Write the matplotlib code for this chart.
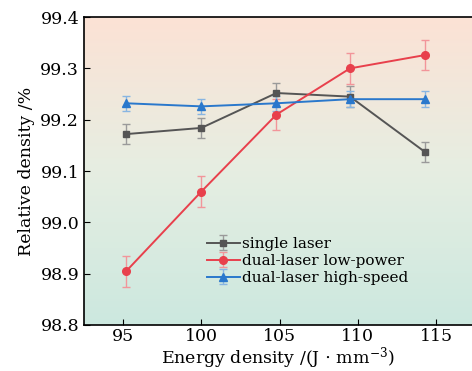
import numpy as np
import matplotlib.pyplot as plt
from matplotlib.colors import LinearSegmentedColormap

plt.rcParams['font.family'] = ['DejaVu Serif']
plt.rcParams['mathtext.fontset'] = 'dejavuserif'

energy = [95.2, 100.0, 104.8, 109.5, 114.3]
single = [99.172, 99.184, 99.252, 99.245, 99.137]
single_err = [0.020, 0.020, 0.020, 0.020, 0.020]
low_power = [98.905, 99.060, 99.210, 99.300, 99.326]
low_power_err = [0.030, 0.030, 0.030, 0.030, 0.030]
high_speed = [99.232, 99.226, 99.232, 99.240, 99.240]
high_speed_err = [0.015, 0.015, 0.015, 0.015, 0.015]

fig = plt.figure(figsize=(4.72, 3.71), dpi=100)
ax = fig.add_axes([0.178, 0.124, 0.822, 0.830])

# background gradient (peach top -> mint bottom)
cmap = LinearSegmentedColormap.from_list('bg', ['#cce8df', '#e6eee2', '#fce2d5'])
grad = np.linspace(0, 1, 256).reshape(-1, 1)
ax.imshow(grad, cmap=cmap, aspect='auto', extent=[0, 1, 0, 1],
          transform=ax.transAxes, origin='lower', zorder=0)

ax.errorbar(energy, single, yerr=single_err, color='#555555', marker='s', ms=5,
            lw=1.4, ecolor='#9a9a9a', elinewidth=1, capsize=3, label='single laser', zorder=3)
ax.errorbar(energy, low_power, yerr=low_power_err, color='#e8404c', marker='o', ms=5.5,
            lw=1.4, ecolor='#f2959a', elinewidth=1, capsize=3, label='dual-laser low-power', zorder=3)
ax.errorbar(energy, high_speed, yerr=high_speed_err, color='#2a78cc', marker='^', ms=6,
            lw=1.4, ecolor='#88b5e2', elinewidth=1, capsize=3, label='dual-laser high-speed', zorder=3)

ax.set_xlim(92.5, 117.3)
ax.set_ylim(98.8, 99.4)
ax.set_xticks([95, 100, 105, 110, 115])
ax.set_yticks([98.8, 98.9, 99.0, 99.1, 99.2, 99.3, 99.4])
ax.yaxis.set_major_formatter(plt.FormatStrFormatter('%.1f'))
ax.tick_params(direction='in', labelsize=12.5, length=4)
ax.tick_params(axis='x', pad=2)
ax.spines['right'].set_visible(False)
for s in ['left', 'top', 'bottom']:
    ax.spines[s].set_linewidth(1.2)

ax.set_xlabel(r'Energy density /(J $\cdot$ mm$^{\mathregular{-3}}$)', fontsize=12.5, labelpad=0)
ax.set_ylabel('Relative density /%', fontsize=12.5, labelpad=4)

ax.legend(loc='lower left', bbox_to_anchor=(0.3, 0.11), frameon=False, fontsize=11,
          handlelength=2.2, handletextpad=0.1, labelspacing=0.2, borderaxespad=0)

fig.savefig('out.png', dpi=100)
